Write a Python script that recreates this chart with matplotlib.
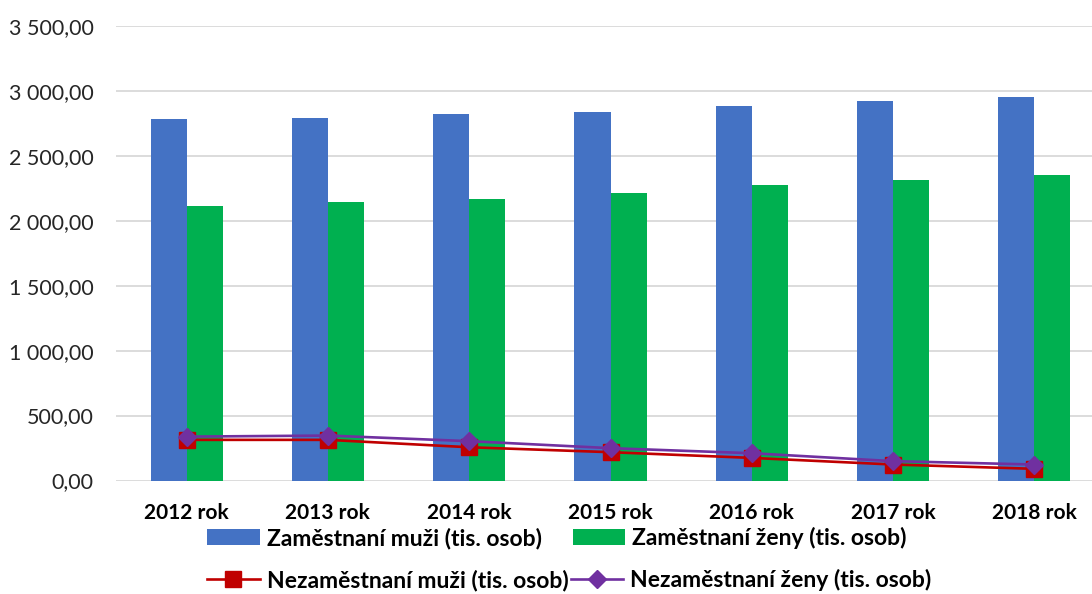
import matplotlib
matplotlib.use("Agg")
import matplotlib.pyplot as plt
import numpy as np
from matplotlib.ticker import FuncFormatter, MultipleLocator

categories = ["2012 rok", "2013 rok", "2014 rok", "2015 rok", "2016 rok", "2017 rok", "2018 rok"]
zam_muzi = [2785, 2792, 2823, 2838, 2885, 2923, 2954]
zam_zeny = [2115, 2146, 2169, 2215, 2277, 2315, 2354]
nezam_muzi = [313, 313, 256, 218, 174, 123, 90]
nezam_zeny = [338, 346, 303, 249, 210, 149, 123]

labels = ["Zaměstnaní muži (tis. osob)", "Zaměstnaní ženy (tis. osob)",
          "Nezaměstnaní muži (tis. osob)", "Nezaměstnaní ženy (tis. osob)"]

plt.rcParams['font.family'] = ['Lato', 'DejaVu Sans']

W, H = 1092, 594
fig = plt.figure(figsize=(W / 100, H / 100), dpi=100)
left, right = 116 / W, 1105 / W
bottom, top = (H - 480.5) / H, (H - 26) / H
ax = fig.add_axes([left, bottom, right - left, top - bottom])

x = np.arange(len(categories))
bw = 0.255
b1 = ax.bar(x - bw / 2, zam_muzi, bw, color="#4472C4", label=labels[0], zorder=2)
b2 = ax.bar(x + bw / 2, zam_zeny, bw, color="#00B050", label=labels[1], zorder=2)
l1, = ax.plot(x, nezam_muzi, color="#C00000", lw=1.9, marker="s", ms=11, label=labels[2], zorder=3)
l2, = ax.plot(x, nezam_zeny, color="#7030A0", lw=1.9, marker="D", ms=9, label=labels[3], zorder=4)

ax.set_xlim(-0.5, len(categories) - 0.5)
ax.set_ylim(0, 3500)
ax.yaxis.set_major_locator(MultipleLocator(500))
ax.yaxis.set_major_formatter(FuncFormatter(lambda v, p: f"{v:,.2f}".replace(",", " ").replace(".", ",")))
ax.grid(axis="y", color="#D9D9D9", lw=1.3, zorder=0)
ax.set_axisbelow(True)
for s in ax.spines.values():
    s.set_visible(False)
ax.tick_params(axis="both", length=0)
ax.tick_params(axis="y", labelsize=15.5, labelcolor="#262626", pad=16)
ax.set_xticks(x)
ax.set_xticklabels(categories, fontsize=15, fontweight="bold", color="#000000")
ax.tick_params(axis="x", pad=16)

fs = 16.5
leg1 = fig.legend([b1, b2], labels[:2], loc="center left", bbox_to_anchor=(207 / W, (H - 538) / H),
                  ncol=2, frameon=False, handlelength=2.3, handleheight=0.75, handletextpad=0.3,
                  columnspacing=1.35, prop={"size": fs, "weight": "bold"}, borderaxespad=0, borderpad=0)
leg2 = fig.legend([l1, l2], labels[2:], loc="center left", bbox_to_anchor=(207 / W, (H - 580) / H),
                  ncol=2, frameon=False, handlelength=2.3, handletextpad=0.3,
                  columnspacing=0.1, prop={"size": fs, "weight": "bold"}, borderaxespad=0, borderpad=0)

fig.savefig("out.png", dpi=100)
